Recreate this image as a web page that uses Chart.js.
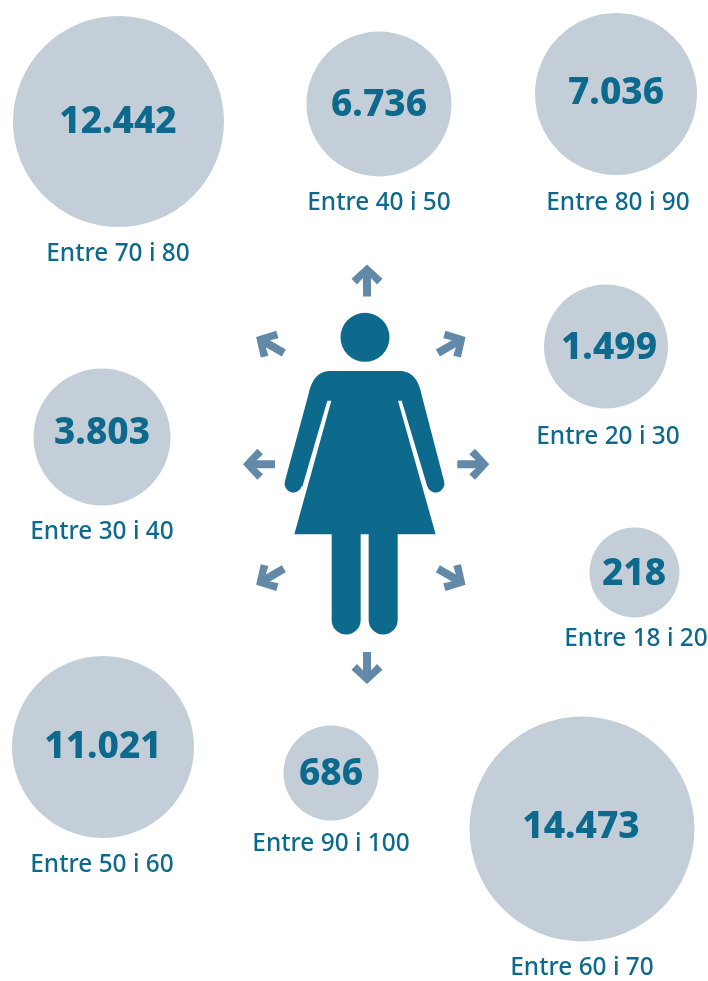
<!DOCTYPE html>
<html>
<head>
<meta charset="utf-8">
<title>Dones per edat</title>
<script src="https://cdn.jsdelivr.net/npm/chart.js@4"></script>
<style>
  body { margin: 0; background: #fff; }
  #wrap { width: 708px; height: 981px; }
</style>
</head>
<body>
<div id="wrap"><canvas id="myChart" width="708" height="981"></canvas></div>
<script>
const categories = ['Entre 18 i 20', 'Entre 20 i 30', 'Entre 30 i 40', 'Entre 40 i 50', 'Entre 50 i 60',
                    'Entre 60 i 70', 'Entre 70 i 80', 'Entre 80 i 90', 'Entre 90 i 100'];
const values = [218, 1499, 3803, 6736, 11021, 14473, 12442, 7036, 686];

// where each bubble sits in the picture, and how big it is (px)
const bubbleX = [634.5, 606, 102, 379, 103, 582, 118.5, 616, 331];
const bubbleY = [572.5, 346.5, 437, 104, 747, 829, 121.5, 94, 773];
const bubbleR = [45, 62, 68.5, 72.5, 91, 112.5, 105.5, 81, 47.5];

const valueX = [634, 609, 102, 379, 103, 581, 118, 616, 331];
const valueY = [574, 348, 433, 105, 747, 827, 122, 93, 774];
const labelX = [636, 608, 102, 379, 102, 582, 118, 618, 331];
const labelY = [639.5, 437.5, 532.5, 203.5, 865.5, 968.5, 254.5, 203.5, 844.5];

const BUBBLE_COLOR = '#c4ced9';
const TEXT_COLOR = '#0e6a8c';
const ARROW_COLOR = '#6389a8';

function formatValue(v) {
    return String(v).replace(/\B(?=(\d{3})+$)/g, '.');
}

// Texts on top of the bubbles
const textPlugin = {
    id: 'bubbleTexts',
    afterDatasetsDraw(chart) {
        const c = chart.ctx;
        c.save();
        c.fillStyle = TEXT_COLOR;
        c.textAlign = 'center';
        c.textBaseline = 'middle';
        values.forEach(function(v, i) {
            c.font = '800 37px "Noto Sans"';
            c.fillText(formatValue(v), valueX[i], valueY[i]);
            c.font = '500 24.4px "Noto Sans"';
            c.fillText(categories[i], labelX[i], labelY[i]);
        });
        c.restore();
    }
};

// Figure and arrows in the middle
const figurePlugin = {
    id: 'figure',
    afterDatasetsDraw(chart) {
        const c = chart.ctx;
        const zx = function(v) { return 240 + v / 3; };
        const zy = function(v) { return 255 + v / 3; };
        const L = function(x, y) { c.lineTo(zx(x), zy(y)); };
        const Q = function(a, b, x, y) { c.quadraticCurveTo(zx(a), zy(b), zx(x), zy(y)); };
        const deg = Math.PI / 180;

        c.save();
        c.fillStyle = TEXT_COLOR;
        c.beginPath();
        c.arc(zx(375), zy(247), 24.5, 0, Math.PI * 2);
        c.fill();

        c.beginPath();
        c.moveTo(zx(265), zy(348));
        L(485, 348);
        Q(532, 352, 545, 420);
        L(612, 678);
        c.arc(zx(587), zy(686), 8.8, -15 * deg, 165 * deg);
        L(485, 437);
        L(474, 437);
        L(587, 838);
        L(473, 838);
        L(473, 1095);
        c.arc(zx(429.5), zy(1095), 14.5, 0, Math.PI);
        L(386, 838);
        L(362, 838);
        L(362, 1095);
        c.arc(zx(318.5), zy(1095), 14.5, 0, Math.PI);
        L(275, 838);
        L(163, 838);
        L(274, 437);
        L(262, 437);
        L(187, 695);
        c.arc(zx(160), zy(686), 8.8, 15 * deg, 195 * deg);
        L(205, 420);
        Q(218, 352, 265, 348);
        c.closePath();
        c.fill();

        // arrows: centre x, y and rotation in degrees
        const arrows = [[367, 280.5, 0], [451.7, 345, 60], [473.3, 464.3, 90], [451.7, 576.7, 120],
                        [367, 668, 180], [270, 576.7, 240], [259, 464.3, 270], [270, 345, 300]];
        c.fillStyle = ARROW_COLOR;
        arrows.forEach(function(a) {
            c.save();
            c.translate(a[0], a[1]);
            c.rotate(a[2] * deg);
            c.beginPath();
            c.moveTo(0, -16);
            c.lineTo(15.5, -1.7);
            c.lineTo(10, 4);
            c.lineTo(4, -2.5);
            c.lineTo(4, 16);
            c.lineTo(-4, 16);
            c.lineTo(-4, -2.5);
            c.lineTo(-10, 4);
            c.lineTo(-15.5, -1.7);
            c.closePath();
            c.fill();
            c.restore();
        });
        c.restore();
    }
};

const ctx = document.getElementById('myChart').getContext('2d');
new Chart(ctx, {
    type: 'bubble',
    data: {
        labels: categories,
        datasets: [{
            label: 'Dones',
            data: values.map(function(v, i) {
                return { x: bubbleX[i], y: bubbleY[i], r: bubbleR[i], v: v };
            }),
            backgroundColor: BUBBLE_COLOR,
            borderWidth: 0,
            clip: false
        }]
    },
    options: {
        responsive: false,
        animation: false,
        layout: { padding: 0, autoPadding: false },
        plugins: {
            legend: { display: false },
            tooltip: { enabled: false },
            title: { display: false }
        },
        scales: {
            x: { type: 'linear', display: false, min: 0, max: 708 },
            y: { type: 'linear', display: false, min: 0, max: 981, reverse: true }
        }
    },
    plugins: [figurePlugin, textPlugin]
});
</script>
</body>
</html>
